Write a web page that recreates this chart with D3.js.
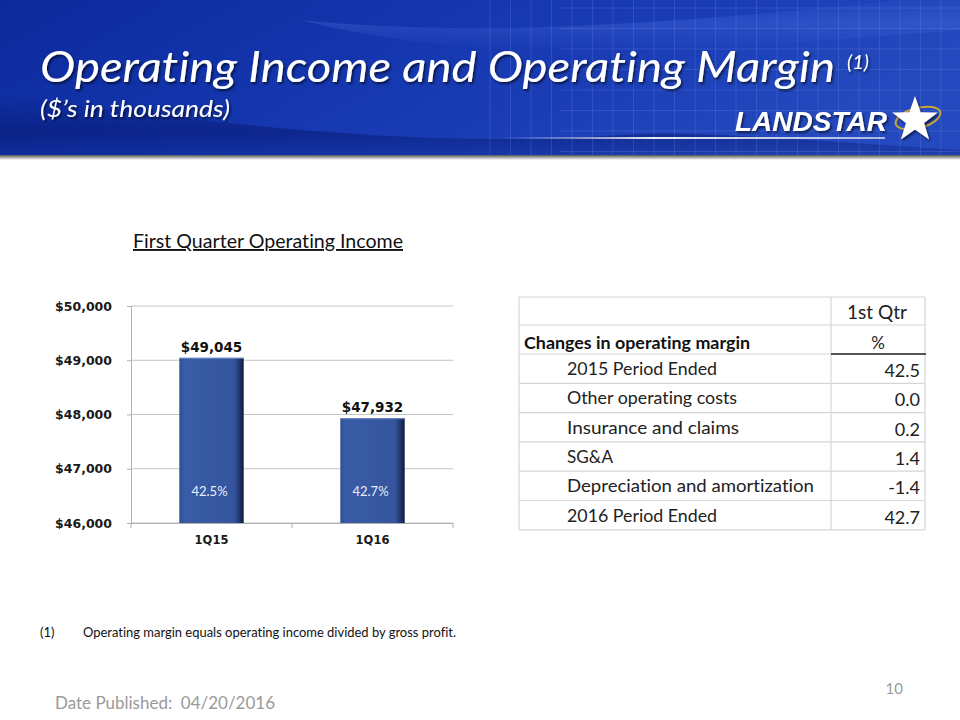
<!DOCTYPE html>
<html><head><meta charset="utf-8">
<script src="https://cdn.jsdelivr.net/npm/d3@7"></script>
<style>body{margin:0;background:#fff}svg{display:block}text{font-variant-ligatures:none}</style>
</head><body><svg id="c" width="960" height="720"></svg>
<script>
// ---- data ----
const categories = ["1Q15", "1Q16"];
const incomeValues = [49045, 47932];
const marginLabels = ["42.5%", "42.7%"];
const yTicks = [46000, 47000, 48000, 49000, 50000];
const tableLabels = ["2015 Period Ended", "Other operating costs", "Insurance and claims", "SG&A", "Depreciation and amortization", "2016 Period Ended"];
const tableValues = ["42.5", "0.0", "0.2", "1.4", "-1.4", "42.7"];

const svg = d3.select("#c");
const F = "Lato, 'Open Sans', sans-serif";
const FB = "'DejaVu Sans', Verdana, sans-serif";
const defs = svg.append("defs");

function fit(sel, w) {
  sel.attr("textLength", w).attr("lengthAdjust", "spacingAndGlyphs");
  return sel;
}

// ---- header ----
const hg = defs.append("linearGradient").attr("id", "hg").attr("x1", 0).attr("y1", 0).attr("x2", 1).attr("y2", 0.3);
hg.append("stop").attr("offset", 0).attr("stop-color", "#0d2a9c");
hg.append("stop").attr("offset", 0.35).attr("stop-color", "#1233aa");
hg.append("stop").attr("offset", 0.7).attr("stop-color", "#1a3db6");
hg.append("stop").attr("offset", 1).attr("stop-color", "#2449be");
svg.append("rect").attr("x", 0).attr("y", 0).attr("width", 960).attr("height", 155).attr("fill", "url(#hg)");
const sw = defs.append("linearGradient").attr("id", "sw").attr("x1", 0).attr("y1", 0).attr("x2", 0).attr("y2", 1);
sw.append("stop").attr("offset", 0).attr("stop-color", "#06186e").attr("stop-opacity", 0);
sw.append("stop").attr("offset", 0.6).attr("stop-color", "#06186e").attr("stop-opacity", 0.55);
sw.append("stop").attr("offset", 1).attr("stop-color", "#06186e").attr("stop-opacity", 0.2);
svg.append("path").attr("d", "M0,95 C200,120 400,150 620,135 C700,130 800,140 960,150 L960,155 L0,155 Z").attr("fill", "url(#sw)");
const lw = defs.append("linearGradient").attr("id", "lw").attr("x1", 0).attr("y1", 0).attr("x2", 0).attr("y2", 1);
lw.append("stop").attr("offset", 0).attr("stop-color", "#4a6fe0").attr("stop-opacity", 0);
lw.append("stop").attr("offset", 0.5).attr("stop-color", "#5a7ff0").attr("stop-opacity", 0.25);
lw.append("stop").attr("offset", 1).attr("stop-color", "#4a6fe0").attr("stop-opacity", 0);
svg.append("path").attr("d", "M300,20 C500,40 700,20 960,-5 L960,30 C700,50 500,70 300,20 Z").attr("fill", "url(#lw)");
const gridG = svg.append("g").attr("stroke", "#8fa8ff").attr("stroke-opacity", 0.18).attr("stroke-width", 1);
d3.range(490, 960, 20.5).forEach(x => gridG.append("line").attr("x1", x).attr("x2", x).attr("y1", 0).attr("y2", 155));
d3.range(8, 155, 20.5).forEach(y => gridG.append("line").attr("x1", 560).attr("x2", 960).attr("y1", y).attr("y2", y));
const sh = defs.append("linearGradient").attr("id", "sh").attr("x1", 0).attr("y1", 0).attr("x2", 0).attr("y2", 1);
sh.append("stop").attr("offset", 0).attr("stop-color", "#555");
sh.append("stop").attr("offset", 1).attr("stop-color", "#fff");
svg.append("rect").attr("x", 0).attr("y", 155).attr("width", 960).attr("height", 5).attr("fill", "url(#sh)");
const gl = defs.append("linearGradient").attr("id", "gl");
gl.append("stop").attr("offset", 0).attr("stop-color", "#fff").attr("stop-opacity", 0);
gl.append("stop").attr("offset", 0.4).attr("stop-color", "#fff").attr("stop-opacity", 0.9);
gl.append("stop").attr("offset", 1).attr("stop-color", "#fff").attr("stop-opacity", 0.6);
svg.append("rect").attr("x", 500).attr("y", 137).attr("width", 385).attr("height", 2).attr("fill", "url(#gl)");

const ds = defs.append("filter").attr("id", "ds");
ds.append("feDropShadow").attr("dx", 1.5).attr("dy", 2).attr("stdDeviation", 1.2).attr("flood-color", "#000").attr("flood-opacity", 0.6);
fit(svg.append("text").attr("x", 40).attr("y", 82).attr("font-family", F).attr("font-style", "italic")
  .attr("font-size", 43).attr("fill", "#fff").attr("filter", "url(#ds)")
  .text("Operating Income and Operating Margin"), 795);
svg.append("text").attr("x", 847).attr("y", 69).attr("font-family", F).attr("font-style", "italic")
  .attr("font-size", 20).attr("fill", "#fff").attr("filter", "url(#ds)").text("(1)");
fit(svg.append("text").attr("x", 40).attr("y", 117).attr("font-family", F).attr("font-style", "italic")
  .attr("font-size", 24).attr("fill", "#fff").attr("filter", "url(#ds)")
  .text("($\u2019s in thousands)"), 190);
fit(svg.append("text").attr("x", 735).attr("y", 131).attr("font-family", "'Liberation Sans', Arial, sans-serif")
  .attr("font-style", "italic").attr("font-weight", 900).attr("font-size", 27).attr("fill", "#fff")
  .attr("filter", "url(#ds)").text("LANDSTAR"), 152);
const star = d3.range(10).map(i => {
  const r = i % 2 ? 9.5 : 24, a = -Math.PI / 2 + i * Math.PI / 5;
  return [915 + r * Math.cos(a), 120 + r * Math.sin(a)];
});
svg.append("ellipse").attr("cx", 918).attr("cy", 118).attr("rx", 23).attr("ry", 10)
  .attr("transform", "rotate(-15,918,118)").attr("fill", "none").attr("stroke", "#c8a43a").attr("stroke-width", 2);
svg.append("polygon").attr("points", star.map(p => p.join(",")).join(" ")).attr("fill", "#fff").attr("filter", "url(#ds)");

// ---- chart ----
const y = d3.scaleLinear().domain([46000, 50000]).range([523, 306]);
const x = d3.scaleBand().domain(categories).range([131, 453]).paddingInner(0.6).paddingOuter(0.3);

fit(svg.append("text").attr("x", 133).attr("y", 248).attr("font-family", F)
  .attr("font-size", 19).attr("fill", "#111").attr("text-decoration", "underline").text("First Quarter Operating Income"), 270);

svg.append("g").selectAll("line").data(yTicks).join("line")
  .attr("x1", 131).attr("x2", 453).attr("y1", d => y(d)).attr("y2", d => y(d))
  .attr("stroke", "#c4c4c4").attr("stroke-width", 1);

const yAxis = svg.append("g").attr("transform", "translate(131,0)")
  .call(d3.axisLeft(y).tickValues(yTicks).tickSize(4).tickPadding(15).tickFormat(d => "$" + d3.format(",")(d)));
yAxis.select(".domain").attr("stroke", "#b0b0b0");
yAxis.selectAll(".tick line").attr("stroke", "#b0b0b0");
yAxis.selectAll("text").attr("font-family", FB).attr("font-weight", 700).attr("font-size", 12.5).attr("fill", "#1a1a1a");

const xAxis = svg.append("g").attr("transform", "translate(0,523)")
  .call(d3.axisBottom(x).tickSize(0).tickPadding(13));
xAxis.select(".domain").attr("stroke", "#b0b0b0");
xAxis.selectAll("text").attr("font-family", FB).attr("font-weight", 700).attr("font-size", 11.5).attr("fill", "#1a1a1a");
svg.append("g").selectAll("line").data([x.range()[0], (x(categories[0]) + x.bandwidth() + x(categories[1])) / 2, x.range()[1]]).join("line")
  .attr("x1", d => d).attr("x2", d => d).attr("y1", 523).attr("y2", 528).attr("stroke", "#b0b0b0");

const bg = defs.append("linearGradient").attr("id", "bg").attr("x1", 0).attr("x2", 1).attr("y1", 0).attr("y2", 0);
bg.append("stop").attr("offset", 0).attr("stop-color", "#2d4f94");
bg.append("stop").attr("offset", 0.08).attr("stop-color", "#3a5ca6");
bg.append("stop").attr("offset", 0.85).attr("stop-color", "#34559e");
bg.append("stop").attr("offset", 0.93).attr("stop-color", "#22386e");
bg.append("stop").attr("offset", 1).attr("stop-color", "#0e1a3a");
const bars = svg.append("g").selectAll("g").data(categories).join("g");
bars.append("rect").attr("x", d => x(d)).attr("width", x.bandwidth())
  .attr("y", (d, i) => y(incomeValues[i])).attr("height", (d, i) => y(46000) - y(incomeValues[i]))
  .attr("fill", "url(#bg)");
bars.append("line").attr("x1", d => x(d)).attr("x2", d => x(d) + x.bandwidth())
  .attr("y1", (d, i) => y(incomeValues[i]) + 0.5).attr("y2", (d, i) => y(incomeValues[i]) + 0.5)
  .attr("stroke", "#6d8ac8").attr("stroke-width", 1);
bars.append("text").attr("x", d => x(d) + x.bandwidth() / 2).attr("y", (d, i) => y(incomeValues[i]) - 6)
  .attr("text-anchor", "middle").attr("font-family", FB).attr("font-weight", 700).attr("font-size", 13.5).attr("fill", "#111")
  .text((d, i) => "$" + d3.format(",")(incomeValues[i]));
bars.append("text").attr("x", d => x(d) + x.bandwidth() / 2 - 2).attr("y", y(46000) - 27)
  .attr("text-anchor", "middle").attr("font-family", F).attr("font-size", 13).attr("fill", "#e8eefa")
  .text((d, i) => marginLabels[i]);

// ---- table ----
const tx0 = 519, tx1 = 831, tx2 = 925;
const rowH = 29.3;
const dataTop = 354;
const tg = svg.append("g");
const lineC = "#d6d6d6";
const hLines = [297, 325, 354].concat(tableLabels.map((d, i) => dataTop + (i + 1) * rowH));
tg.selectAll("line.h").data(hLines).join("line").attr("class", "h")
  .attr("x1", tx0).attr("x2", tx2).attr("y1", d => d).attr("y2", d => d).attr("stroke", lineC).attr("stroke-width", 1.2);
const bottom = hLines[hLines.length - 1];
[tx0, tx1, tx2].forEach(xx => tg.append("line").attr("x1", xx).attr("x2", xx).attr("y1", 297).attr("y2", bottom).attr("stroke", lineC).attr("stroke-width", 1.2));
tg.append("line").attr("x1", tx1).attr("x2", tx2 + 1).attr("y1", 354).attr("y2", 354).attr("stroke", "#222").attr("stroke-width", 1.5);
fit(tg.append("text").attr("x", 847).attr("y", 319).attr("font-family", F)
  .attr("font-size", 18.5).attr("fill", "#222").text("1st Qtr"), 60);
tg.append("text").attr("x", (tx1 + tx2) / 2).attr("y", 349).attr("text-anchor", "middle").attr("font-family", F)
  .attr("font-size", 17).attr("fill", "#222").text("%");
fit(tg.append("text").attr("x", 524).attr("y", 349).attr("font-family", F).attr("font-weight", 700)
  .attr("font-size", 17).attr("fill", "#111").text("Changes in operating margin"), 226);
const labW = [150, 170, 172, 46, 247, 150];
tg.selectAll("text.lab").data(tableLabels).join("text").attr("class", "lab")
  .attr("x", 567).attr("y", (d, i) => dataTop + i * rowH + 21).attr("font-family", F).attr("font-size", 18)
  .attr("fill", "#222").attr("textLength", (d, i) => labW[i]).attr("lengthAdjust", "spacingAndGlyphs").text(d => d);
tg.selectAll("text.val").data(tableValues).join("text").attr("class", "val")
  .attr("x", 920).attr("y", (d, i) => dataTop + i * rowH + 23).attr("text-anchor", "end").attr("font-family", F)
  .attr("font-size", 18).attr("fill", "#222").text(d => d);

// ---- footer ----
svg.append("text").attr("x", 40).attr("y", 637).attr("font-family", F).attr("font-size", 13).attr("fill", "#111").text("(1)");
fit(svg.append("text").attr("x", 83).attr("y", 637).attr("font-family", F).attr("font-size", 13).attr("fill", "#111")
  .text("Operating margin equals operating income divided by gross profit."), 373);
fit(svg.append("text").attr("x", 55).attr("y", 709).attr("font-family", F).attr("font-size", 18).attr("fill", "#9a9a9a")
  .attr("xml:space", "preserve").text("Date Published:  04/20/2016"), 220);
svg.append("text").attr("x", 903).attr("y", 694).attr("text-anchor", "end").attr("font-family", F).attr("font-size", 15).attr("fill", "#9a9a9a").text("10");
</script></body></html>
